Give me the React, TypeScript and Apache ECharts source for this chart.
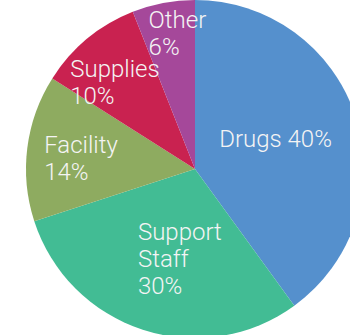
import React, { useEffect, useRef } from "react";
import * as echarts from "echarts";

const categories = ["Drugs", "Support Staff", "Facility", "Supplies", "Other"];
const values = [40, 30, 14, 10, 6];
const colors = ["#5590CD", "#42BC94", "#8EAB60", "#C92250", "#A5489A"];
// label text line breaks per category
const labelTemplates = ["{n} {v}%", "Support\nStaff\n{v}%", "{n}\n{v}%", "{n}\n{v}%", "{n}\n{v}%"];
const labelShifts: [number, number][] = [[-59, -3], [-30, 7], [-64, 0], [-69, -19], [-30, -50]];

export default function App() {
  const ref = useRef<HTMLDivElement>(null);
  useEffect(() => {
    document.body.style.margin = "0";
    const chart = echarts.init(ref.current!, undefined, { renderer: "svg" });
    chart.setOption({
      animation: false,
      series: [
        {
          type: "pie",
          center: [195, 169],
          radius: 169,
          startAngle: 90,
          clockwise: true,
          silent: true,
          label: {
            show: true,
            position: "inside",
            color: "#f4f4f4",
            fontFamily: "Roboto",
            fontWeight: 300,
            fontSize: 24,
            lineHeight: 27,
          },
          labelLayout: (p: any) => ({
            dx: labelShifts[p.dataIndex][0],
            dy: labelShifts[p.dataIndex][1],
            align: "left",
            verticalAlign: "middle",
          }),
          labelLine: { show: false },
          itemStyle: { borderWidth: 0 },
          data: categories.map((name, i) => ({
            name,
            value: values[i],
            itemStyle: { color: colors[i] },
            label: {
              formatter: labelTemplates[i].replace("{n}", name).replace("{v}", String(values[i])),
            },
          })),
        },
      ],
    });
    return () => chart.dispose();
  }, []);
  return <div ref={ref} style={{ width: 350, height: 335 }} />;
}
